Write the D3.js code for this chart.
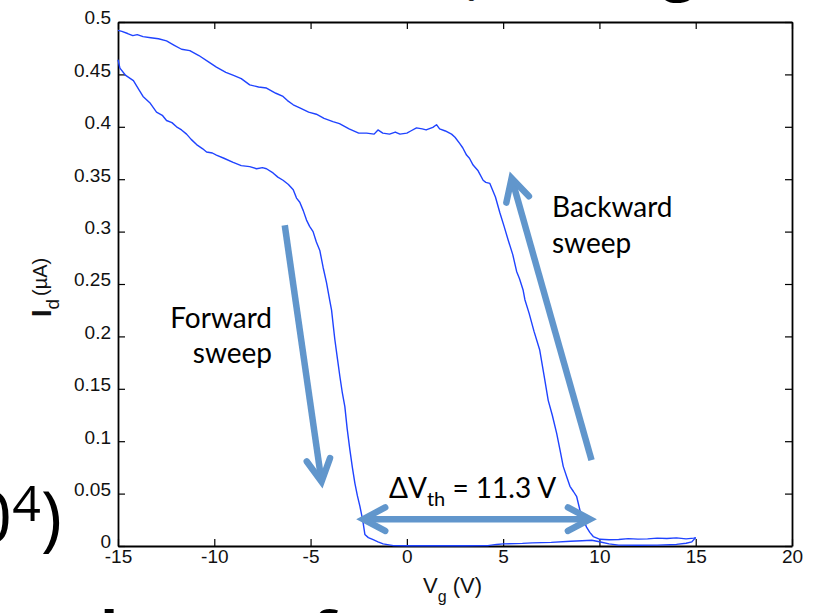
<!DOCTYPE html>
<html>
<head>
<meta charset="utf-8">
<script src="https://cdn.jsdelivr.net/npm/d3@7"></script>
<style>
  body { margin: 0; background: #fff; }
  svg { display: block; }
</style>
</head>
<body>
<svg id="chart" width="813" height="613"></svg>
<script>
// forward sweep (Vg -15 -> 15)
var fwdVg = [-15, -14.9, -14.6, -14.2, -13.9, -13.7, -13.35, -13.0, -12.7, -12.48, -12.2, -11.96, -11.7, -11.44, -11.2, -10.92, -10.6, -10.4, -10.1, -9.89, -9.5, -9.02, -8.6, -8.16, -7.8, -7.5, -7.29, -6.95, -6.7, -6.43, -6.15, -5.9, -5.73, -5.56, -5.38, -5.21, -5.05, -4.87, -4.7, -4.52, -4.35, -4.17, -4.0, -3.91, -3.82, -3.74, -3.6, -3.48, -3.35, -3.22, -3.1, -2.96, -2.83, -2.7, -2.57, -2.44, -2.35, -2.27, -2.18, -2.0, -1.75, -1.5, -1.23, -0.7, 0, 1, 2, 3, 4.2, 4.66, 5.0, 6.0, 6.5, 7.5, 8.5, 9.1, 9.6, 10.0, 10.5, 11, 12, 13, 14, 14.5, 14.8, 15];
var fwdId = [0.464, 0.456, 0.449, 0.444, 0.435, 0.429, 0.423, 0.414, 0.411, 0.406, 0.404, 0.400, 0.397, 0.393, 0.388, 0.383, 0.379, 0.376, 0.375, 0.373, 0.370, 0.366, 0.363, 0.362, 0.360, 0.361, 0.360, 0.356, 0.352, 0.349, 0.345, 0.340, 0.332, 0.328, 0.320, 0.311, 0.305, 0.300, 0.290, 0.282, 0.266, 0.251, 0.234, 0.225, 0.210, 0.197, 0.178, 0.162, 0.146, 0.133, 0.112, 0.092, 0.075, 0.060, 0.048, 0.038, 0.030, 0.022, 0.011, 0.008, 0.006, 0.004, 0.002, 0.0004, 0.0003, 0.0002, 0.0003, 0.0002, 0.0004, 0.0015, 0.002, 0.0025, 0.003, 0.0035, 0.0045, 0.005, 0.0055, 0.004, 0.002, 0.0008, 0.0007, 0.0008, 0.0015, 0.0026, 0.004, 0.008];

// backward sweep (Vg 15 -> -15)
var bwdVg = [15, 14.9, 14.5, 14, 13.5, 13, 12.5, 12, 11.5, 11, 10.5, 10.03, 9.68, 9.5, 9.33, 9.15, 8.99, 8.82, 8.65, 8.47, 8.3, 8.12, 7.95, 7.78, 7.55, 7.34, 7.15, 6.9, 6.6, 6.35, 6.13, 6.04, 5.85, 5.7, 5.5, 5.26, 5.05, 4.83, 4.6, 4.31, 4.1, 3.96, 3.7, 3.44, 3.25, 3.1, 2.9, 2.75, 2.5, 2.32, 2.0, 1.7, 1.54, 1.35, 1.0, 0.8, 0.5, 0.2, 0, -0.36, -0.6, -0.9, -1.25, -1.5, -1.7, -2.09, -2.5, -3.0, -3.5, -3.84, -4.3, -4.7, -5.1, -5.56, -5.9, -6.2, -6.43, -6.8, -7.29, -7.7, -8.16, -8.6, -9.0, -9.4, -9.89, -10.3, -10.8, -11.27, -11.7, -12.1, -12.48, -12.9, -13.3, -13.7, -14.0, -14.23, -14.5, -14.8, -15];
var bwdId = [0.008, 0.0075, 0.0068, 0.0078, 0.0072, 0.0075, 0.0068, 0.0066, 0.007, 0.0062, 0.006, 0.0064, 0.009, 0.013, 0.018, 0.026, 0.034, 0.047, 0.052, 0.057, 0.066, 0.076, 0.092, 0.1075, 0.125, 0.139, 0.160, 0.187, 0.205, 0.222, 0.235, 0.244, 0.255, 0.262, 0.278, 0.292, 0.305, 0.318, 0.333, 0.346, 0.347, 0.349, 0.358, 0.3635, 0.370, 0.373, 0.380, 0.384, 0.390, 0.393, 0.396, 0.398, 0.402, 0.3995, 0.397, 0.398, 0.399, 0.396, 0.394, 0.393, 0.395, 0.393, 0.394, 0.397, 0.393, 0.394, 0.394, 0.398, 0.403, 0.405, 0.408, 0.412, 0.414, 0.418, 0.421, 0.425, 0.429, 0.432, 0.437, 0.438, 0.440, 0.446, 0.449, 0.452, 0.457, 0.462, 0.468, 0.4727, 0.474, 0.478, 0.482, 0.484, 0.485, 0.486, 0.488, 0.487, 0.489, 0.491, 0.492];

var xTicks = [-15, -10, -5, 0, 5, 10, 15, 20];
var yTicks = [0, 0.05, 0.1, 0.15, 0.2, 0.25, 0.3, 0.35, 0.4, 0.45, 0.5];

// annotation arrows in data units: [x1, y1, x2, y2] (tail -> tip)
var fwdArrow = [-6.34, 0.306, -4.43, 0.0614];
var bwdArrow = [9.59, 0.082, 5.44, 0.351];
var dvArrow = [-2.27, 0.0256, 9.51, 0.0256];

var svg = d3.select("#chart");

var xScale = d3.scaleLinear().domain([-15, 20]).range([118, 792]);
var yScale = d3.scaleLinear().domain([0, 0.5]).range([546, 22]);

var tickFont = "'Liberation Sans', Arial, sans-serif";

// axes
var gx = svg.append("g")
  .attr("transform", "translate(0," + yScale(0) + ")")
  .call(d3.axisBottom(xScale).tickValues(xTicks).tickSizeInner(-7).tickSizeOuter(0).tickPadding(4)
    .tickFormat(function(d) { return String(d); }));

var gy = svg.append("g")
  .attr("transform", "translate(" + xScale(-15) + ",0)")
  .call(d3.axisLeft(yScale).tickValues(yTicks).tickSizeInner(-7).tickSizeOuter(0).tickPadding(7)
    .tickFormat(d3.format(".2~f")));

var gt = svg.append("g")
  .attr("transform", "translate(0," + yScale(0.5) + ")")
  .call(d3.axisTop(xScale).tickValues(xTicks).tickSizeInner(-7).tickSizeOuter(0).tickFormat(""));

var gr = svg.append("g")
  .attr("transform", "translate(" + xScale(20) + ",0)")
  .call(d3.axisRight(yScale).tickValues(yTicks).tickSizeInner(-7).tickSizeOuter(0).tickFormat(""));

[gx, gy, gt, gr].forEach(function(g) {
  g.selectAll(".domain").attr("stroke", "#000").attr("stroke-width", 1.8);
  g.selectAll(".tick line").attr("stroke", "#000").attr("stroke-width", 1.2);
  g.selectAll("text")
    .style("font-family", tickFont)
    .style("font-size", "19px")
    .attr("fill", "#111");
});
gy.selectAll(".tick text").attr("dy", "0.1em");
gx.selectAll(".tick text").attr("dy", "0.7em");

// curves
var line = d3.line()
  .x(function(d) { return xScale(d[0]); })
  .y(function(d) { return yScale(d[1]); });

var fwd = fwdVg.map(function(v, i) { return [v, fwdId[i]]; });
var bwd = bwdVg.map(function(v, i) { return [v, bwdId[i]]; });

svg.append("g").selectAll("path.curve")
  .data([fwd, bwd])
  .enter().append("path")
  .attr("class", "curve")
  .attr("d", line)
  .attr("fill", "none")
  .attr("stroke", "#1f43ff")
  .attr("stroke-width", 1.4)
  .attr("stroke-linejoin", "round");

// arrows
var arrowColor = "#6196cc";
var drawHead = function(g, tx, ty, fx, fy) {
  var ang = Math.atan2(fy - ty, fx - tx), len = 25, spread = 28 * Math.PI / 180;
  var p1 = [tx + len * Math.cos(ang + spread), ty + len * Math.sin(ang + spread)];
  var p2 = [tx + len * Math.cos(ang - spread), ty + len * Math.sin(ang - spread)];
  g.append("path")
    .attr("d", "M" + p1 + "L" + [tx, ty] + "L" + p2)
    .attr("fill", "none")
    .attr("stroke", arrowColor)
    .attr("stroke-width", 6.5)
    .attr("stroke-linecap", "round")
    .attr("stroke-linejoin", "miter");
};
var drawArrow = function(a, both) {
  var g = svg.append("g");
  var x1 = xScale(a[0]), y1 = yScale(a[1]), x2 = xScale(a[2]), y2 = yScale(a[3]);
  g.append("line")
    .attr("x1", x1).attr("y1", y1).attr("x2", x2).attr("y2", y2)
    .attr("stroke", arrowColor)
    .attr("stroke-width", 6.5)
    .attr("stroke-linecap", "butt");
  drawHead(g, x2, y2, x1, y1);
  if (both) drawHead(g, x1, y1, x2, y2);
};
drawArrow(fwdArrow, false);
drawArrow(bwdArrow, false);
drawArrow(dvArrow, true);

// annotation text
var annFont = "Lato, 'Open Sans', sans-serif";
var fw = svg.append("text")
  .attr("text-anchor", "end")
  .style("font-family", annFont).style("font-size", "28px").attr("fill", "#000");
fw.append("tspan").attr("x", 272).attr("y", 328).text("Forward");
fw.append("tspan").attr("x", 272).attr("y", 363).text("sweep");

var bw = svg.append("text")
  .attr("text-anchor", "start")
  .style("font-family", annFont).style("font-size", "28px").attr("fill", "#000");
bw.append("tspan").attr("x", 552).attr("y", 217).text("Backward");
bw.append("tspan").attr("x", 552).attr("y", 253).text("sweep");

var dv = svg.append("text")
  .attr("x", 389).attr("y", 498)
  .style("font-family", annFont).style("font-size", "28px").attr("fill", "#000");
dv.append("tspan").text("ΔV");
dv.append("tspan").attr("dy", 8).style("font-size", "20px").text("th");
dv.append("tspan").attr("dy", -8).text(" = 11.3 V");

// axis labels
var xl = svg.append("text")
  .attr("x", 423).attr("y", 593)
  .style("font-family", tickFont).style("font-size", "22px").attr("fill", "#111");
xl.append("tspan").text("V");
xl.append("tspan").attr("dy", 9).style("font-size", "16px").text("g");
xl.append("tspan").attr("dy", -9).text(" (V)");

var yl = svg.append("text")
  .attr("transform", "translate(51,317) rotate(-90)")
  .style("font-family", tickFont).attr("fill", "#111");
yl.append("tspan").style("font-size", "27px").style("font-weight", "bold").text("I");
yl.append("tspan").attr("dy", 8).style("font-size", "19px").text("d");
yl.append("tspan").attr("dy", -12).attr("dx", 3).style("font-size", "20px").text("(µA)");

// slide fragments around the chart
var slideFont = "'Open Sans', Lato, sans-serif";
var big = svg.append("text")
  .attr("x", 62).attr("y", 543)
  .attr("text-anchor", "end")
  .style("font-family", slideFont).style("font-size", "72px").attr("fill", "#000");
big.append("tspan").text("10");
big.append("tspan").attr("dy", -22).style("font-size", "50px").text("4");
big.append("tspan").attr("dy", 22).text(")");

var bottomText = svg.append("text")
  .attr("y", 655)
  .style("font-family", slideFont).style("font-size", "60px").style("font-weight", "bold").attr("fill", "#000");
bottomText.append("tspan").attr("x", -4).text("t");
bottomText.append("tspan").attr("x", 100).text("l");
bottomText.append("tspan").attr("x", 134).text("t");
bottomText.append("tspan").attr("x", 312).text("f");

var titleBits = svg.append("text")
  .attr("y", -2)
  .style("font-family", tickFont).style("font-size", "16px").attr("fill", "#222");
titleBits.append("tspan").attr("x", 438).text("d");
titleBits.append("tspan").attr("x", 467).text("g");
svg.append("text")
  .attr("x", 662).attr("y", -12)
  .style("font-family", slideFont).style("font-size", "60px").style("font-weight", "bold").attr("fill", "#000")
  .text("g");
</script>
</body>
</html>
